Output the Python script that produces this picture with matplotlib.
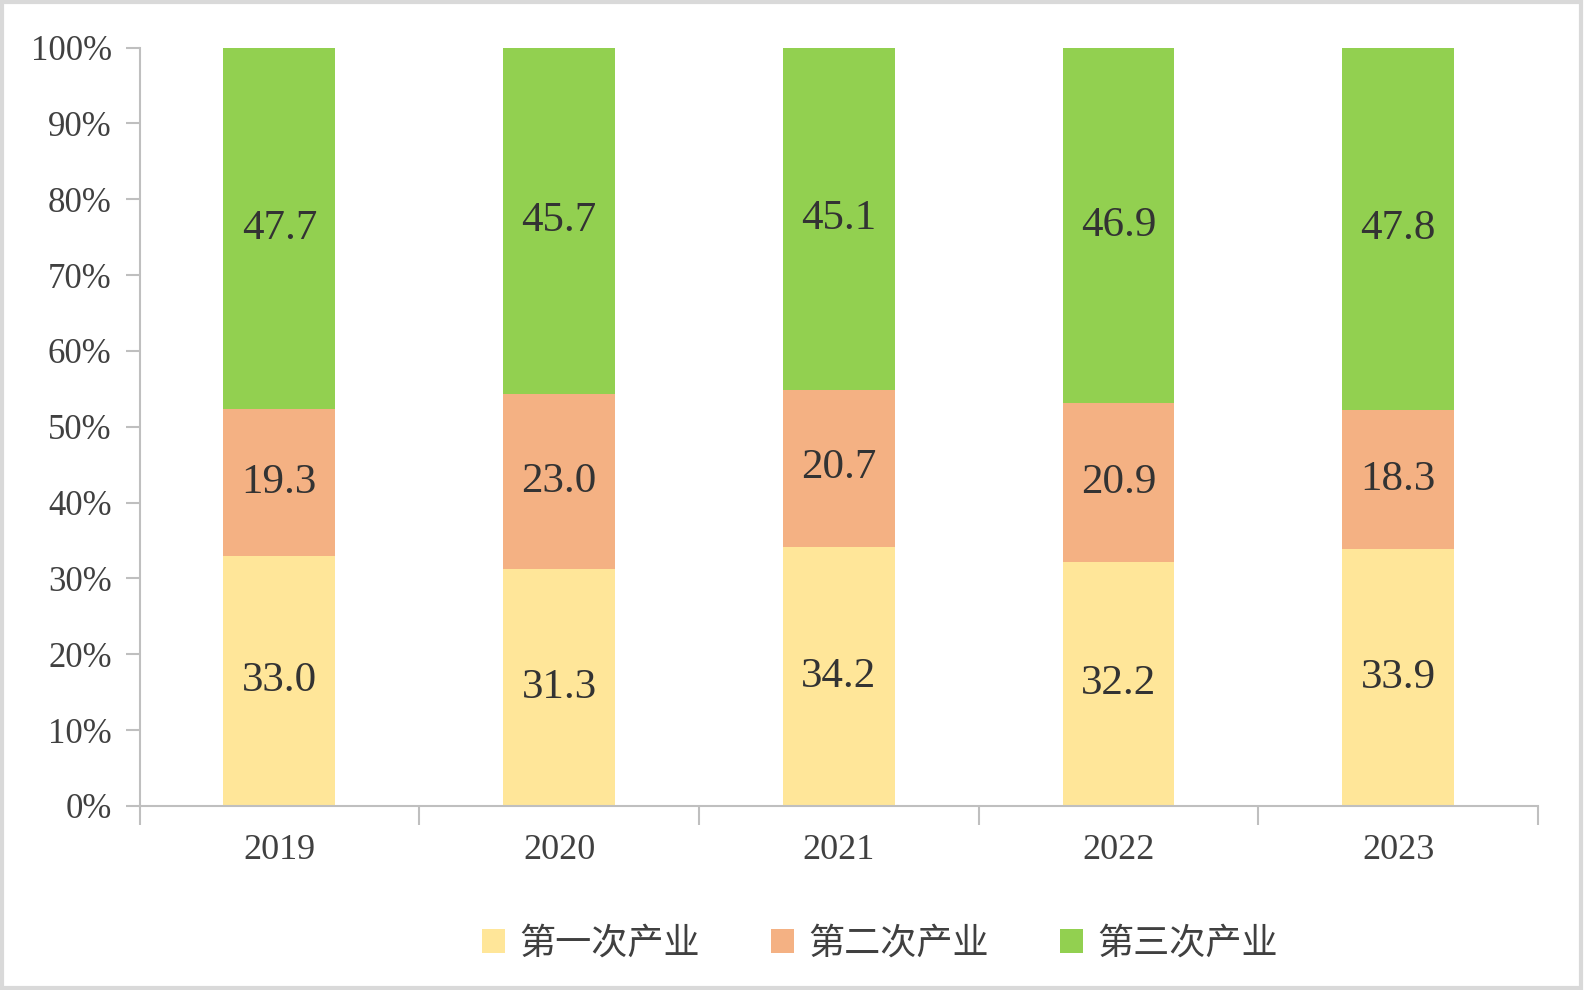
import numpy as np
import matplotlib.pyplot as plt
from matplotlib.patches import Rectangle

years = ['2019', '2020', '2021', '2022', '2023']
primary = [33.0, 31.3, 34.2, 32.2, 33.9]
secondary = [19.3, 23.0, 20.7, 20.9, 18.3]
tertiary = [47.7, 45.7, 45.1, 46.9, 47.8]
series_names = ['第一次产业', '第二次产业', '第三次产业']
colors = ['#FFE699', '#F4B183', '#92D050']

serif = ['Liberation Serif', 'DejaVu Serif']
cjk = ['Noto Sans CJK SC', 'DejaVu Sans']
text_color = '#404040'
axis_color = '#BFBFBF'

W, H = 1584, 990
fig = plt.figure(figsize=(W / 100, H / 100), dpi=100)
left, right, top, bot = 139.5, 1538, 47.5, 806
ax = fig.add_axes([left / W, 1 - bot / H, (right - left) / W, (bot - top) / H])

x = np.arange(len(years))
width = 0.4
bottom = np.zeros(len(years))
for vals, c, name in zip([primary, secondary, tertiary], colors, series_names):
    vals = np.array(vals)
    ax.bar(x, vals, width, bottom=bottom, color=c, label=name, linewidth=0)
    for xi, b, v in zip(x, bottom, vals):
        ax.text(xi, b + v / 2, '%.1f' % v, ha='center', va='center',
                fontsize=31, family=serif, color='#333333')
    bottom += vals

ax.set_xlim(-0.5, len(years) - 0.5)
ax.set_ylim(0, 100)
ax.set_yticks(np.arange(0, 101, 10))
ax.set_yticklabels(['%d%%' % v for v in range(0, 101, 10)], family=serif,
                   fontsize=25, color=text_color)
ax.set_xticks(x)
ax.set_xticklabels(years, family=serif, fontsize=26, color=text_color)
ax.set_xticks(np.arange(-0.5, len(years)), minor=True)
ax.tick_params(axis='x', which='major', length=0, pad=20)
ax.tick_params(axis='x', which='minor', length=14, width=1.5, color=axis_color)
ax.tick_params(axis='y', length=10, width=1.5, color=axis_color, pad=10)

for s in ['top', 'right']:
    ax.spines[s].set_visible(False)
for s in ['left', 'bottom']:
    ax.spines[s].set_color(axis_color)
    ax.spines[s].set_linewidth(1.5)

leg = fig.legend(loc='center', bbox_to_anchor=(880 / W, 1 - 944 / H), ncol=3,
                 frameon=False, prop={'family': cjk, 'size': 26},
                 handlelength=0.65, handleheight=0.65, handletextpad=0.4,
                 columnspacing=1.95)
for t in leg.get_texts():
    t.set_color(text_color)

fig.patches.append(Rectangle((0.001, 0.002), 0.997, 0.996, transform=fig.transFigure,
                             fill=False, edgecolor='#D9D9D9', linewidth=3))

plt.savefig('out.png', dpi=100)
plt.close()
